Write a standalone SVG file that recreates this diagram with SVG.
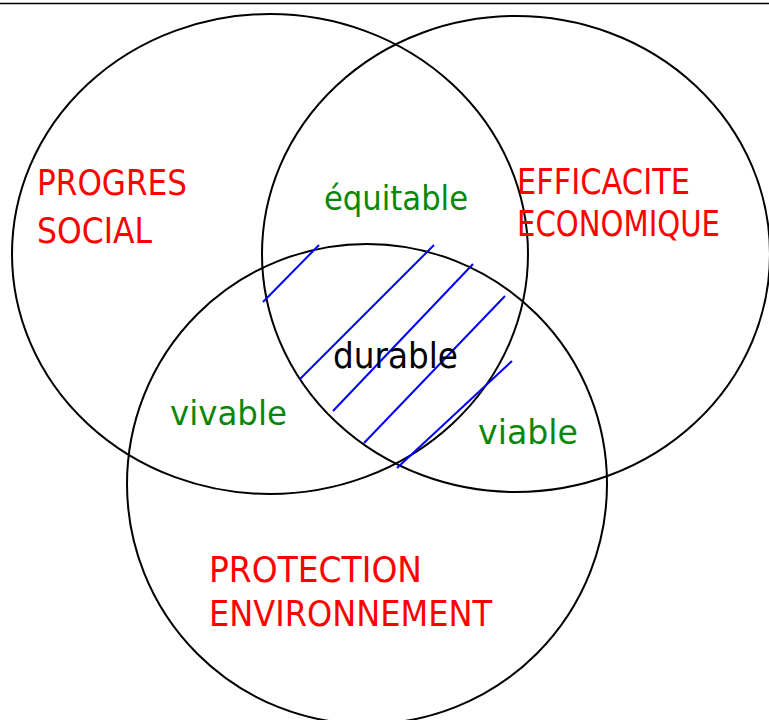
<svg xmlns="http://www.w3.org/2000/svg" width="769" height="720" viewBox="0 0 769 720">
<style>
.c{fill:none;stroke:#000;stroke-width:2}
.h{stroke:#0000ff;stroke-width:2}
text{font-family:"DejaVu Sans","Liberation Sans",sans-serif}
.r{fill:#ff0000;font-size:35px}
.g{fill:#0a870a;font-size:34px}
.k{fill:#000;font-size:36px}
</style>
<rect width="769" height="720" fill="#fff"/>
<line x1="0" y1="3.5" x2="769" y2="3.5" stroke="#000" stroke-width="1.5"/>
<g id="social"><ellipse class="c" cx="270" cy="254" rx="258" ry="240"/></g>
<g id="economique"><ellipse class="c" cx="516" cy="254" rx="254" ry="238"/></g>
<g id="environnement"><ellipse class="c" cx="367" cy="484" rx="240" ry="240"/></g>
<g id="hatch">
<line class="h" x1="263" y1="302" x2="319" y2="245"/>
<line class="h" x1="300" y1="379" x2="434" y2="245"/>
<line class="h" x1="333" y1="411" x2="473" y2="264"/>
<line class="h" x1="364" y1="443" x2="505" y2="296"/>
<line class="h" x1="397" y1="468" x2="512" y2="361"/>
</g>
<g id="labels">
<text class="r" x="37" y="195" textLength="150" lengthAdjust="spacingAndGlyphs">PROGRES</text>
<text class="r" x="37" y="243" textLength="115" lengthAdjust="spacingAndGlyphs">SOCIAL</text>
<text class="r" x="517" y="194" textLength="173" lengthAdjust="spacingAndGlyphs">EFFICACITE</text>
<text class="r" x="517" y="236" textLength="203" lengthAdjust="spacingAndGlyphs">ECONOMIQUE</text>
<text class="r" x="209" y="582" textLength="213" lengthAdjust="spacingAndGlyphs">PROTECTION</text>
<text class="r" x="209" y="626" textLength="283" lengthAdjust="spacingAndGlyphs">ENVIRONNEMENT</text>
<text class="g" x="324" y="210" textLength="144" lengthAdjust="spacingAndGlyphs">équitable</text>
<text class="g" x="170" y="425" textLength="117" lengthAdjust="spacingAndGlyphs">vivable</text>
<text class="g" x="478" y="444" textLength="100" lengthAdjust="spacingAndGlyphs">viable</text>
<text class="k" x="333" y="368" textLength="125" lengthAdjust="spacingAndGlyphs">durable</text>
</g>
</svg>
